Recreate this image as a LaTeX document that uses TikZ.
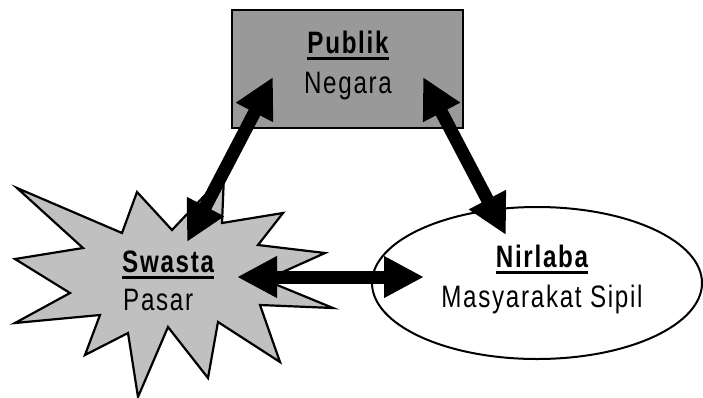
\documentclass[tikz,border=0pt]{standalone}
\usepackage{fontspec}
\setmainfont{Liberation Sans}[FakeStretch=0.78, LetterSpace=5.5]
\usetikzlibrary{arrows.meta,shapes.geometric}
\definecolor{boxgray}{RGB}{153,153,153}
\definecolor{stargray}{RGB}{192,192,192}
% underlined word with a thick rule
\newcommand\ulword[1]{\setbox0\hbox{#1}\rlap{\rule[-7pt]{\wd0}{3pt}}\box0}
\begin{document}
\begin{tikzpicture}[x=1pt,y=-1pt,
  lbl/.style={anchor=base, inner sep=0pt, font=\fontsize{31}{34}\selectfont},
  head/.style={lbl, font=\fontsize{31}{34}\selectfont\bfseries},
  link/.style={line width=13pt,
    {Triangle[length=40pt,width=39pt]}-{Triangle[length=40pt,width=39pt]}}]
\useasboundingbox (0,0) rectangle (703,397);

% Publik box
\node[draw, line width=2pt, fill=boxgray, minimum width=231pt,
  minimum height=118pt, inner sep=0pt] (pub) at (347.5,69) {};

% Swasta burst
\path[draw, line width=2.2pt, fill=stargray, line join=miter]
  (17,188) -- (122,233) -- (137,192) -- (172,230) -- (224,175) -- (222,223)
  -- (283,213) -- (258,245) -- (325,253) -- (265,280) -- (333,308)
  -- (260,305) -- (280,362) -- (218,322) -- (208,378) -- (168,327)
  -- (138,397) -- (128,333) -- (85,355) -- (100,315) -- (15,323)
  -- (70,293) -- (15,259) -- (83,248) -- cycle;

% Nirlaba ellipse
\node[draw, ellipse, line width=2pt, fill=white, minimum width=330pt,
  minimum height=152pt, inner sep=0pt] (nir) at (537,283) {};

% labels
\node[head] (pubA) at (348,53) {\ulword{Publik}};
\node[lbl] (pubB) at (348,93) {Negara};
\node[head, anchor=base west] (swaA) at (122,272) {\ulword{Swasta}};
\node[lbl, anchor=base west] (swaB) at (123,310) {Pasar};
\node[head] (nirA) at (542,267) {\ulword{Nirlaba}};
\node[lbl] (nirB) at (542,307) {Masyarakat Sipil};

% arrow ends
\coordinate (pubL) at (273,77);
\coordinate (pubR) at (423,77);
\coordinate (swaT) at (187,242);
\coordinate (swaR) at (237,277);
\coordinate (nirL) at (424,277);
\coordinate (nirT) at (506,235);

\draw[link] (swaT) -- (pubL);
\draw[link] (pubR) -- (nirT);
\draw[link] (swaR) -- (nirL);
\end{tikzpicture}
\end{document}
